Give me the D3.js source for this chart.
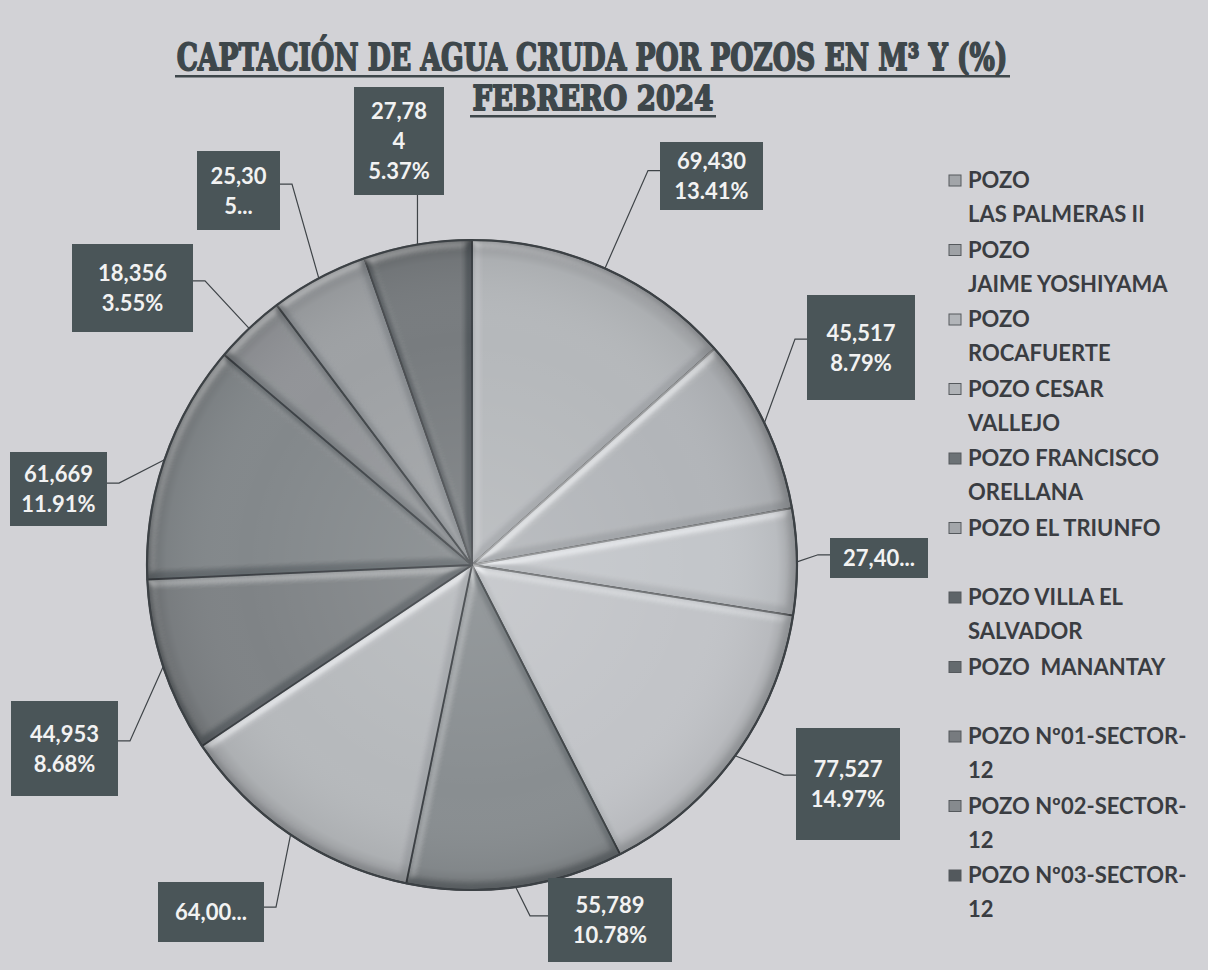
<!DOCTYPE html>
<html><head><meta charset="utf-8">
<script src="https://cdn.jsdelivr.net/npm/d3@7"></script>
<style>html,body{margin:0;padding:0;background:#d2d2d6;}svg{display:block;}</style>
</head><body>
<svg id="chart" width="1208" height="970"></svg>
<script>
// ---- data ----
const categories = [
  "POZO\nLAS PALMERAS II",
  "POZO\nJAIME YOSHIYAMA",
  "POZO\nROCAFUERTE",
  "POZO CESAR\nVALLEJO",
  "POZO FRANCISCO\nORELLANA",
  "POZO EL TRIUNFO",
  "POZO VILLA EL\nSALVADOR",
  "POZO  MANANTAY",
  "POZO Nº01-SECTOR-\n12",
  "POZO Nº02-SECTOR-\n12",
  "POZO Nº03-SECTOR-\n12"
];
const values = [69430, 45517, 27400, 77527, 55789, 64000, 44953, 61669, 18356, 25305, 27784];
const titleLines = ["CAPTACIÓN DE AGUA CRUDA POR POZOS EN M³ Y (%)", "FEBRERO 2024"];

// ---- styles / layout ----
const colors = ["#a2a5a9","#9fa2a6","#b2b5b9","#b0b3b7","#6c7276","#a3a6aa","#5e6468","#646a6e","#777b7f","#868a8e","#53595d"];
// label box: x, y, w, h, mode
const labelBoxes = [
  [660,142,103,68,"full"],
  [807,295,108,105,"full"],
  [830,538,98,40,"valtrunc"],
  [796,728,104,112,"full"],
  [548,878,124,84,"full"],
  [158,882,106,60,"valtrunc"],
  [11,701,107,95,"full"],
  [10,452,97,74,"full"],
  [72,244,121,88,"full"],
  [197,151,83,79,"wraptrunc"],
  [354,87,90,108,"wrap3"]
];

const svg = d3.select("#chart");
const cx = 472, cy = 565, R = 325;

const defs = svg.append("defs");
const rg = defs.append("radialGradient").attr("id","shade").attr("cx","50%").attr("cy","50%").attr("r","50%");
rg.append("stop").attr("offset","0%").attr("stop-color","#ffffff").attr("stop-opacity",0.12);
rg.append("stop").attr("offset","70%").attr("stop-color","#ffffff").attr("stop-opacity",0.0);
rg.append("stop").attr("offset","94%").attr("stop-color","#000000").attr("stop-opacity",0.05);
rg.append("stop").attr("offset","100%").attr("stop-color","#000000").attr("stop-opacity",0.2);

const bevel = defs.append("filter").attr("id","bevel").attr("x","-5%").attr("y","-5%").attr("width","110%").attr("height","110%");
bevel.append("feGaussianBlur").attr("in","SourceAlpha").attr("stdDeviation",5).attr("result","blur");
const spec = bevel.append("feSpecularLighting").attr("in","blur").attr("surfaceScale",4)
  .attr("specularConstant",0.6).attr("specularExponent",14).attr("lighting-color","#ffffff").attr("result","spec");
spec.append("feDistantLight").attr("azimuth",235).attr("elevation",42);
bevel.append("feComposite").attr("in","spec").attr("in2","SourceAlpha").attr("operator","in").attr("result","specIn");
bevel.append("feComposite").attr("in","SourceGraphic").attr("in2","specIn").attr("operator","arithmetic")
  .attr("k1",0).attr("k2",1).attr("k3",0.6).attr("k4",0);

// title
const tg = svg.append("g").attr("fill","#3e474b").attr("stroke","#3e474b").attr("stroke-width",1.8)
  .attr("stroke-linejoin","round").attr("font-family","'DejaVu Serif', serif").attr("font-weight","bold");
function fitText(txt, cxp, y, size, width) {
  const t = tg.append("text").attr("font-size",size).attr("text-anchor","middle").text(txt);
  const w = t.node().getComputedTextLength();
  const s = width / w;
  t.attr("transform",`translate(${cxp},${y}) scale(${s},1)`);
}
fitText(titleLines[0], 592, 70, 37, 831);
tg.append("rect").attr("x",175).attr("y",75).attr("width",835).attr("height",2.5).attr("stroke","none");
fitText(titleLines[1], 593, 110, 33, 241);
tg.append("rect").attr("x",470).attr("y",115).attr("width",246).attr("height",2.5).attr("stroke","none");

// pie
const total = d3.sum(values);
const pie = d3.pie().sort(null).value(d => d)(values);
const arc = d3.arc().innerRadius(0).outerRadius(R);
const edgeArc = d3.arc().innerRadius(R).outerRadius(R);
const g = svg.append("g").attr("transform",`translate(${cx},${cy})`);
g.selectAll("path.slice").data(pie).join("path").attr("class","slice")
  .attr("d",arc).attr("fill",(d,i)=>colors[i]).attr("filter","url(#bevel)")
  .attr("stroke","#3c4145").attr("stroke-width",1.8).attr("stroke-linejoin","round");
g.append("circle").attr("r",R).attr("fill","url(#shade)").attr("stroke","#3c4145").attr("stroke-width",2.2);

// labels
const fmtV = d3.format(",");
const fmtP = d3.format(".2%");
const lg = svg.append("g");
pie.forEach((d,i) => {
  const [bx,by,bw,bh,mode] = labelBoxes[i];
  const vs = fmtV(d.value), ps = fmtP(d.value/total);
  let lines;
  if (mode==="full") lines = [vs, ps];
  else if (mode==="valtrunc") lines = [vs.slice(0,5)+"..."];
  else if (mode==="wraptrunc") lines = [vs.slice(0,5), vs.slice(5)+"..."];
  else lines = [vs.slice(0,5), vs.slice(5), ps];
  const [ex,ey] = edgeArc.centroid(d);
  const px = cx+ex, py = cy+ey;
  let ax, ay, sx, sy;
  if (mode==="wrap3") { ax = px; ay = by+bh; sx = px; sy = by+bh; }
  else if (px > bx+bw) { ax = bx+bw; ay = by+bh*0.42; sx = ax+12; sy = ay; }
  else { ax = bx; ay = by+bh*0.42; sx = ax-12; sy = ay; }
  if (i===4) { ax = bx; ay = by+bh*0.45; sx = bx-18; sy = ay; }
  lg.append("path").attr("d",`M${ax},${ay}L${sx},${sy}L${px},${py}`)
    .attr("fill","none").attr("stroke","#3f4448").attr("stroke-width",1.2);
  lg.append("rect").attr("x",bx).attr("y",by).attr("width",bw).attr("height",bh).attr("fill","#4a5558");
  const lh = 30, mid = by+bh/2;
  lines.forEach((t,j) => {
    lg.append("text").attr("x",bx+bw/2).attr("y",mid+(j-(lines.length-1)/2)*lh+8)
      .attr("text-anchor","middle").attr("font-family","Lato, 'Open Sans', sans-serif")
      .attr("font-weight","bold").attr("font-size",22).attr("fill","#f2f2f2").text(t);
  });
});

// legend
const leg = svg.append("g").attr("font-family","Lato, 'Open Sans', sans-serif").attr("font-weight","bold").attr("font-size",22).attr("fill","#3a3d42");
categories.forEach((c,i) => {
  const y0 = 188 + i*69.5;
  leg.append("rect").attr("x",949).attr("y",y0-13).attr("width",12).attr("height",11)
    .attr("fill",colors[i]).attr("stroke","#55595d").attr("stroke-width",1);
  c.split("\n").forEach((t,j) => {
    leg.append("text").attr("x",968).attr("y",y0+j*34).attr("xml:space","preserve").style("white-space","pre").text(t);
  });
});
</script>
</body></html>
